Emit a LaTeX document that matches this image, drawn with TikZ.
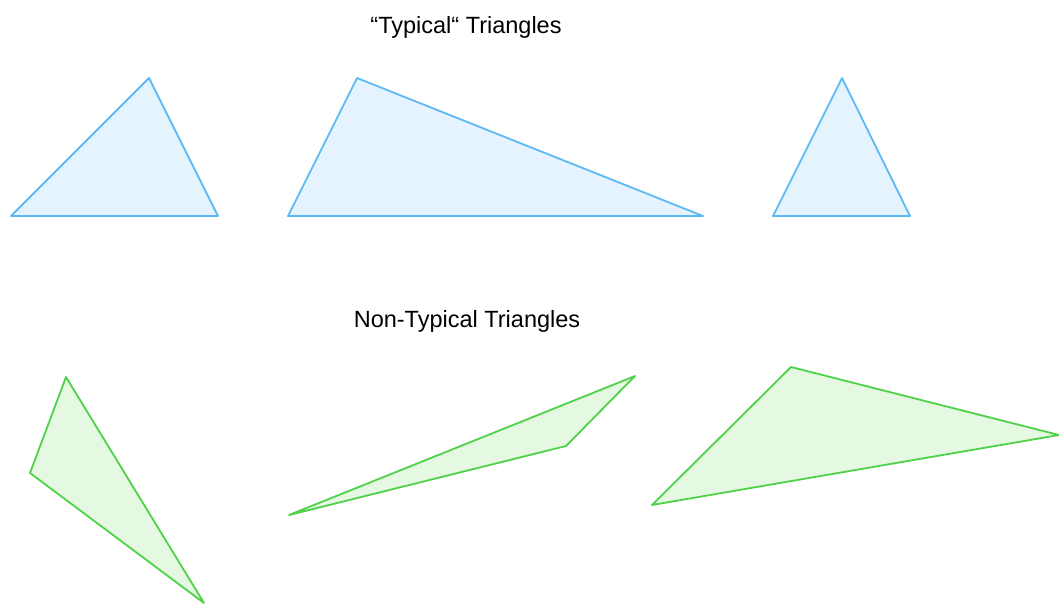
\documentclass[tikz,border=0pt]{standalone}
\usepackage{fontspec}
\setmainfont{Liberation Sans}
\usepackage{tikz}

\definecolor{typline}{HTML}{5DB9F4}
\definecolor{typfill}{HTML}{E4F3FD}
\definecolor{ntline}{HTML}{4FD24A}
\definecolor{ntfill}{HTML}{E5F8E1}

\begin{document}
\begin{tikzpicture}[x=1pt,y=-1pt,line width=1.8pt,line join=round]
\useasboundingbox (0,0) rectangle (1059,605);

\tikzset{typical/.style={draw=typline,fill=typfill},
  nontypical/.style={draw=ntline,fill=ntfill},
  heading/.style={font=\fontsize{23.5}{27}\selectfont}}

%typical
\draw[typical] (11,216) -- (149,78) -- (218,216) -- cycle; %1
\draw[typical] (288,216) -- (357,78) -- (703,216) -- cycle; %2
\draw[typical] (773,216) -- (842,78) -- (910,216) -- cycle; %3

%non-typical
\draw[nontypical] (66,377) -- (30,473) -- (204,603) -- cycle; %1
\draw[nontypical] (289,515) -- (635,376) -- (566,446) -- cycle; %2
\draw[nontypical] (652,505) -- (791,367) -- (1059,435) -- cycle; %3

\node[heading] (typtitle) at (466,27) {“Typical“ Triangles};
\node[heading] (nttitle) at (467,321) {Non-Typical Triangles};

\end{tikzpicture}
\end{document}
